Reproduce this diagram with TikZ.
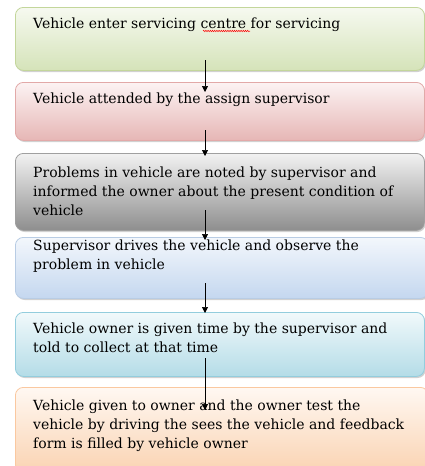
\documentclass[tikz,border=0pt]{standalone}
\usepackage{fontspec}
\setmainfont{DejaVu Serif}
\usetikzlibrary{shadows,decorations.pathmorphing,arrows.meta}

% box colours: top / bottom of the gradient and the border
\definecolor{greenTop}{HTML}{F6F9F0}\definecolor{greenBot}{HTML}{D5E3B9}\definecolor{greenLine}{HTML}{C3D69B}
\definecolor{redTop}{HTML}{FCF3F3}\definecolor{redBot}{HTML}{E6B6B5}\definecolor{redLine}{HTML}{E2A9A8}
\definecolor{grayTop}{HTML}{F2F2F2}\definecolor{grayBot}{HTML}{8E8E8E}\definecolor{grayLine}{HTML}{A0A0A0}
\definecolor{blueTop}{HTML}{F3F7FC}\definecolor{blueBot}{HTML}{C4D7EF}\definecolor{blueLine}{HTML}{B8CCE4}
\definecolor{aquaTop}{HTML}{F1F9FB}\definecolor{aquaBot}{HTML}{B4DCE7}\definecolor{aquaLine}{HTML}{93CDDD}
\definecolor{orangeTop}{HTML}{FFF8F2}\definecolor{orangeBot}{HTML}{FAD3B2}\definecolor{orangeLine}{HTML}{FAC8A0}

\begin{document}
\begin{tikzpicture}[x=1pt,y=-1pt,
  stepbox/.style={draw=#1Line, line width=0.8pt, rounded corners=8pt,
    top color=#1Top, bottom color=#1Bot, anchor=north west, inner sep=0pt,
    minimum width=409pt,
    drop shadow={shadow xshift=1.2pt, shadow yshift=-1.6pt, opacity=0.3, fill=black!60}},
  steptext/.style={anchor=north west, inner sep=0pt, align=left,
    font=\fontsize{14}{19}\selectfont},
  flow/.style={-{Triangle[width=6pt,length=6pt]}, line width=0.7pt}]

\useasboundingbox (0,0) rectangle (425,466);

% boxes
\node[stepbox=green,  minimum height=63pt] (b1) at (15,7) {};
\node[stepbox=red,    minimum height=58pt] (b2) at (15,82) {};
\node[stepbox=gray,   minimum height=77pt] (b3) at (15,153) {};
\node[stepbox=blue,   minimum height=61pt, minimum width=413pt] (b4) at (15,237) {};
\node[stepbox=aqua,   minimum height=64pt] (b5) at (15,312) {};
\node[stepbox=orange, minimum height=85pt, minimum width=413pt] (b6) at (15,387) {};

% texts
\node[steptext] (t1) at (33,17.4) {Vehicle enter servicing centre for servicing};
\node[steptext] (t2) at (33,92.4) {Vehicle attended by the assign supervisor};
\node[steptext] (t3) at (33,166.4) {Problems in vehicle are noted by supervisor and\\informed the owner about the present condition of\\vehicle};
\node[steptext] (t4) at (33,239.4) {Supervisor drives the vehicle and observe the\\problem in vehicle};
\node[steptext] (t5) at (33,322.4) {Vehicle owner is given time by the supervisor and\\told to collect at that time};
\node[steptext] (t6) at (33,399.4) {Vehicle given to owner and the owner test the\\vehicle by driving the sees the vehicle and feedback\\form is filled by vehicle owner};

% spelling mark under "centre"
\draw[red, line width=0.5pt, decorate, decoration={snake, amplitude=0.7pt, segment length=2.2pt}]
  (203,31) -- (250,31);

% arrow end points
\coordinate (a1s) at (205,60);  \coordinate (a1e) at (205,92);
\coordinate (a2s) at (205,130); \coordinate (a2e) at (205,156);
\coordinate (a3s) at (205,210); \coordinate (a3e) at (205,240);
\coordinate (a4s) at (205,283); \coordinate (a4e) at (205,313);
\coordinate (a5s) at (205,358); \coordinate (a5e) at (205,410);

\draw[flow] (a1s) -- (a1e);
\draw[flow] (a2s) -- (a2e);
\draw[flow] (a3s) -- (a3e);
\draw[flow] (a4s) -- (a4e);
\draw[flow] (a5s) -- (a5e);
\end{tikzpicture}
\end{document}
